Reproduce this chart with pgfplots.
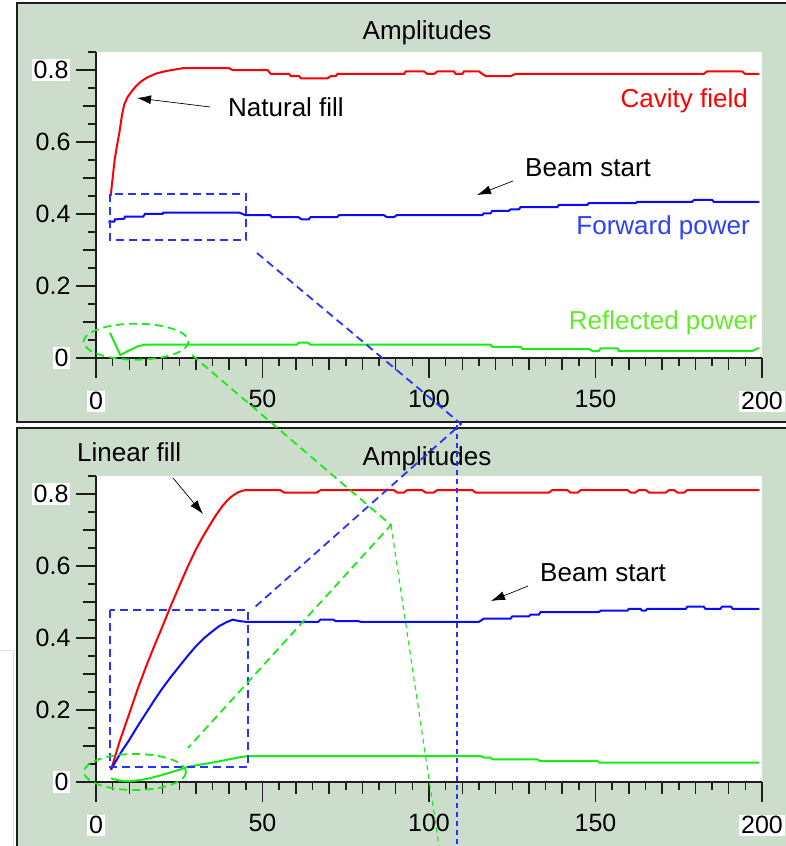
\documentclass[border=0pt]{standalone}
\usepackage{fontspec}
\setmainfont{Liberation Sans}
\usepackage{pgfplots}
\pgfplotsset{compat=1.18}
\usetikzlibrary{arrows.meta}
\definecolor{sage}{RGB}{204,221,204}
\definecolor{cred}{RGB}{255,0,0}
\definecolor{cblue}{RGB}{10,10,255}
\definecolor{cgreen}{RGB}{25,235,25}
\definecolor{tblue}{RGB}{45,65,255}
\definecolor{tgreen}{RGB}{100,235,40}
\definecolor{dblue}{RGB}{40,50,255}
\definecolor{frm}{RGB}{30,30,30}
\setlength{\fboxsep}{2pt}
\newcommand{\wb}[1]{\colorbox{white}{#1}}
\newcommand{\bigtxt}{\fontsize{26}{30}\selectfont}
\pgfplotsset{
 myaxis/.style={
  scale only axis, width=666pt, height=306pt,
  xmin=0, xmax=200, ymin=0, ymax=0.85,
  axis lines=left, axis line style={-, line width=1.5pt, frm},
  axis background/.style={fill=white},
  tick align=outside,
  xtick={0,50,100,150,200},
  xticklabels={\wb{0},50,100,150,\wb{200}},
  minor xtick={5,15,25,35,45,55,65,75,85,95,105,115,125,135,145,155,165,175,185,195},
  extra x ticks={10,20,30,40,60,70,80,90,110,120,130,140,160,170,180,190},
  extra x tick labels={},
  extra x tick style={major tick length=12pt},
  ytick={0,0.2,0.4,0.6,0.8},
  yticklabels={\wb{0},0.2,0.4,0.6,\wb{0.8}},
  minor ytick={0.05,0.15,0.25,0.35,0.45,0.55,0.65,0.75,0.85},
  extra y ticks={0.1,0.3,0.5,0.7},
  extra y tick labels={},
  extra y tick style={major tick length=13pt},
  major tick length=20pt, minor tick length=8pt,
  every tick/.style={line width=1.5pt, frm},
  tick label style={font=\fontsize{25}{25}\selectfont},
  xticklabel style={yshift=-9pt},
  yticklabel style={xshift=-2pt},
  /pgf/number format/assume math mode=true,
  clip=false,
 }
}
\begin{document}
\begin{tikzpicture}
\useasboundingbox (0,0) rectangle (786pt,846pt);
\clip (0,0) rectangle (786pt,846pt);
\begin{scope}[x=1pt,y=-1pt,shift={(0pt,846pt)}]
 \fill[white] (0,0) rectangle (786,846);
 \draw[gray!25] (0,650) -- (13,650) -- (13,846);
 \draw[frm, line width=2pt, fill=sage] (17,3) rectangle (800,422);
 \draw[frm, line width=2pt, fill=sage] (17,428) rectangle (800,870);
\end{scope}

% ---------- top panel ----------
\begin{axis}[myaxis, at={(96pt,488pt)}, anchor=south west]
\addplot[cred, line width=2pt] coordinates {
(4.4,0.45) (5.0,0.50) (5.6,0.55) (6.3,0.59) (7.0,0.625) (7.8,0.675) (8.5,0.705)
(9.5,0.725) (10.5,0.738) (12,0.755) (13.5,0.768) (15.5,0.78) (18,0.79) (21,0.797)
(26,0.805) (40,0.805) (41,0.800) (51.5,0.800) (52.5,0.789) (58,0.789) (58.5,0.783)
(61,0.783) (61.5,0.777) (69.5,0.777) (70.5,0.783) (72,0.783) (72.5,0.789) (92.5,0.789)
(93,0.796) (98.5,0.796) (99.5,0.789) (101.5,0.789) (102.5,0.796) (107.5,0.796)
(108,0.789) (110,0.789) (110.5,0.796) (115,0.796) (117,0.783) (124.5,0.783)
(126,0.789) (182.5,0.789) (183.5,0.796) (194,0.796) (195,0.789) (199.2,0.789)};
\addplot[cblue, line width=2pt] coordinates {
(3.7,0.379) (5.5,0.379) (5.7,0.385) (8.5,0.387) (8.7,0.393) (14.2,0.393) (14.7,0.400)
(20,0.400) (20.2,0.404) (43,0.404) (44.8,0.397) (52.3,0.397) (52.8,0.391) (60.8,0.391)
(61.8,0.385) (63.9,0.385) (64.4,0.391) (72.4,0.391) (73,0.397) (86.4,0.397) (87.4,0.391)
(89.4,0.391) (90.4,0.397) (116,0.397) (116.5,0.402) (118.5,0.402) (119,0.409) (124,0.409)
(124.5,0.413) (127,0.413) (127.5,0.419) (138.5,0.419) (139,0.425) (147.5,0.425)
(148,0.430) (162,0.430) (162.6,0.434) (179,0.434) (179.6,0.439) (185,0.439)
(185.5,0.434) (199.2,0.434)};
\addplot[cgreen, line width=2pt] coordinates {
(4.2,0.070) (7.3,0.008) (9.2,0.0175) (12.7,0.033) (14.7,0.037) (60.3,0.037) (61,0.043)
(63.5,0.043) (64.4,0.037) (118.5,0.037) (119,0.031) (127.5,0.031) (128,0.025)
(148,0.025) (149,0.020) (151,0.020) (151.6,0.027) (156.6,0.027) (157,0.020)
(197.2,0.020) (198.7,0.027) (199.2,0.027)};
\end{axis}

% ---------- bottom panel ----------
\begin{axis}[myaxis, at={(96pt,64pt)}, anchor=south west]
\addplot[cred, line width=2pt] coordinates {
(4.5,0.033) (7,0.11) (10,0.19) (12.5,0.258) (15,0.32) (17.5,0.378) (20,0.433)
(22.5,0.49) (25,0.544) (27.5,0.597) (30,0.646) (32,0.68) (34,0.711) (36,0.741)
(38,0.767) (39.5,0.783) (41,0.795) (42.5,0.804) (44,0.809) (45,0.811)
(55.3,0.811) (56.5,0.804) (66.3,0.804)
(67.5,0.811) (89.4,0.811) (90.5,0.804) (92.4,0.804) (93.5,0.811) (97.9,0.811)
(99,0.804) (101.4,0.804) (102.5,0.811) (113,0.811) (114,0.804) (136,0.804)
(137,0.811) (141.5,0.811) (142.5,0.804) (144.6,0.804) (145.6,0.811) (159.6,0.811)
(160.6,0.804) (162,0.804) (163,0.811) (165.1,0.811) (166.1,0.804) (171.1,0.804)
(172.1,0.811) (173.6,0.811) (174.6,0.804) (176.6,0.804) (177.6,0.811) (199.2,0.811)};
\addplot[cblue, line width=2pt] coordinates {
(4.5,0.035) (7.5,0.082) (10,0.117) (12.5,0.155) (15,0.191) (17.5,0.227) (20,0.261)
(22.5,0.292) (25,0.321) (27.5,0.35) (30,0.377) (32.5,0.4) (35,0.419) (37,0.433)
(39,0.443) (41,0.451) (43,0.447) (45,0.445) (66.7,0.445) (67.4,0.451)
(71.2,0.451) (72,0.447) (78.7,0.447) (79.5,0.445) (115,0.445) (116.5,0.454)
(124.5,0.454) (125,0.460) (130,0.460) (130.5,0.465) (133,0.465) (133.5,0.472)
(151,0.472) (151.6,0.476) (159.6,0.476) (160,0.481) (163.5,0.481) (164,0.476)
(165,0.476) (165.6,0.481) (177.1,0.481) (177.6,0.487) (182.5,0.487) (183,0.481)
(187.5,0.481) (188,0.487) (190.7,0.487) (191.2,0.481) (199.2,0.481)};
\addplot[cgreen, line width=2pt] coordinates {
(4.5,0.010) (7,0.004) (10,0.002) (13,0.005) (16,0.010) (20,0.020) (24,0.031)
(28,0.043) (35,0.054) (40,0.063) (44,0.070) (46,0.072) (115.6,0.072) (116.5,0.068)
(118.5,0.068) (119,0.063) (132.4,0.063) (133.5,0.058) (150.6,0.058) (151.1,0.054)
(199.2,0.054)};
\end{axis}

% ---------- annotations ----------
\begin{scope}[x=1pt,y=-1pt,shift={(0pt,846pt)}]
 \node[font=\bigtxt] at (427,33) {Amplitudes};
 \node[font=\bigtxt] at (427,459) {Amplitudes};
 \node[font=\bigtxt, anchor=base west, inner sep=0] at (228,117) {Natural fill};
 \draw[line width=0.7pt, -{Latex[length=14pt,width=9pt]}] (210,107) -- (137,98);
 \node[font=\bigtxt, anchor=base east, inner sep=0, text=cred] at (748,108) {Cavity field};
 \node[font=\bigtxt, anchor=base west, inner sep=0] at (525,177) {Beam start};
 \draw[line width=0.7pt, -{Latex[length=14pt,width=9pt]}] (513,181) -- (477,195);
 \node[font=\bigtxt, anchor=base east, inner sep=0, text=tblue] at (750,235) {Forward power};
 \node[font=\bigtxt, anchor=base east, inner sep=0, text=tgreen] at (757,330) {Reflected power};
 \node[font=\bigtxt, anchor=base west, inner sep=0] at (77,462) {Linear fill};
 \draw[line width=0.7pt, -{Latex[length=14pt,width=9pt]}] (173,478) -- (203,514);
 \node[font=\bigtxt, anchor=base west, inner sep=0] at (540,582) {Beam start};
 \draw[line width=0.7pt, -{Latex[length=14pt,width=9pt]}] (528,586) -- (491,601);
 % dashed highlight shapes
 \begin{scope}[dblue, line width=1.8pt, dash pattern=on 8pt off 5pt]
  \draw (110,194) rectangle (246,240);
  \draw (110,610) rectangle (248,767);
  \draw (257,253) -- (461,424) -- (255,607);
 \end{scope}
 \draw[dblue, line width=1.4pt, dash pattern=on 5pt off 4pt] (457,425) -- (457,846);
 \begin{scope}[cgreen, line width=1.8pt, dash pattern=on 8pt off 5pt]
  \draw (136,341.7) ellipse [x radius=52.5, y radius=18];
  \draw (135,772) ellipse [x radius=51, y radius=18];
  \draw (192,355) -- (391,525) -- (188,748);
 \end{scope}
 \draw[cgreen, line width=1.1pt, dash pattern=on 5pt off 4pt] (391,525) -- (439,846);
\end{scope}
\end{tikzpicture}
\end{document}
